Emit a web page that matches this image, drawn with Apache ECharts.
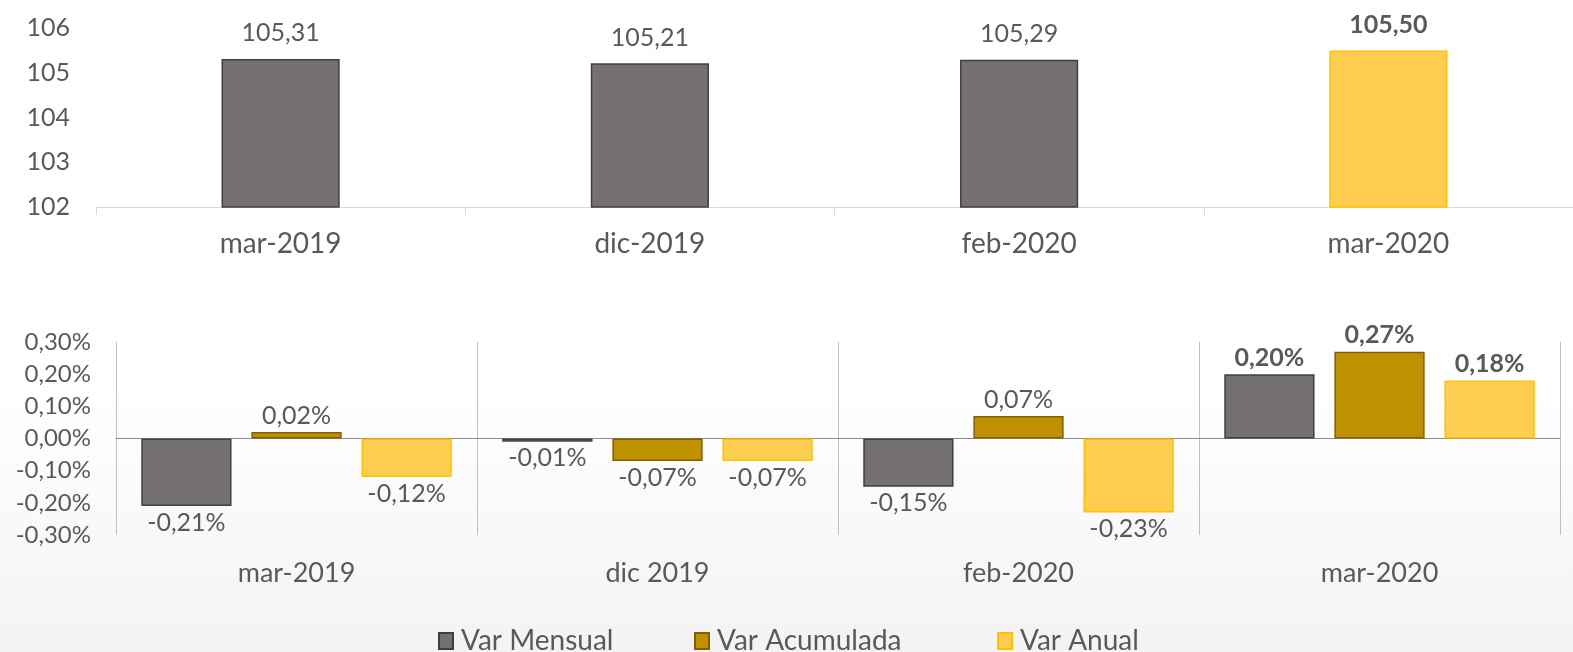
<!DOCTYPE html>
<html><head><meta charset="utf-8">
<script src="https://cdn.jsdelivr.net/npm/echarts@6/dist/echarts.min.js"></script>
<style>html,body{margin:0;padding:0;background:#fff}#c{width:1573px;height:652px}</style>
</head><body><div id="c"></div>
<script>
const topCategories = ['mar-2019', 'dic-2019', 'feb-2020', 'mar-2020'];
const topValues = [105.31, 105.21, 105.29, 105.50];
const topTicks = [102, 103, 104, 105, 106];

const bottomCategories = ['mar-2019', 'dic 2019', 'feb-2020', 'mar-2020'];
const seriesNames = ['Var Mensual', 'Var Acumulada', 'Var Anual'];
const varMensual = [-0.21, -0.01, -0.15, 0.20];
const varAcumulada = [0.02, -0.07, 0.07, 0.27];
const varAnual = [-0.12, -0.07, -0.23, 0.18];
const bottomTicks = [-0.30, -0.20, -0.10, 0.00, 0.10, 0.20, 0.30];

const FONT = 'Lato';
const TXT = '#595959';
const fmtPct = v => v.toFixed(2).replace('.', ',') + '%';
const highlightIndex = 3;

function pctData(arr) {
  return arr.map((v, i) => ({
    value: v,
    label: {
      position: v < 0 ? 'bottom' : 'top',
      fontWeight: i === highlightIndex ? 'bold' : 'normal'
    }
  }));
}

const colors = {
  mensual: { fill: '#757170', border: '#404040' },
  acum: { fill: '#BF9000', border: '#7F6000' },
  anual: { fill: '#FFCD4F', border: '#FFC000' }
};

function pctSeries(name, arr, c) {
  return {
    name: name, type: 'bar', xAxisIndex: 1, yAxisIndex: 1,
    data: pctData(arr),
    barWidth: '25%', barGap: '22%',
    itemStyle: { color: c.fill, borderColor: c.border, borderWidth: 1.5 },
    label: { show: true, formatter: p => fmtPct(p.value), color: TXT, fontFamily: FONT, fontSize: 25, distance: 4 }
  };
}

function legendItem(name, left) {
  return {
    data: [name], left: left, top: 622, itemWidth: 14, itemHeight: 16, icon: 'rect',
    textStyle: { color: TXT, fontFamily: FONT, fontSize: 28, padding: [0, 0, 0, 3] }
  };
}

const chart = echarts.init(document.getElementById('c'));
chart.setOption({
  backgroundColor: {
    type: 'linear', x: 0, y: 0, x2: 0, y2: 1,
    colorStops: [
      { offset: 0, color: '#ffffff' },
      { offset: 0.6, color: '#ffffff' },
      { offset: 1, color: '#f3f3f3' }
    ]
  },
  animation: false,
  textStyle: { fontFamily: FONT },
  grid: [
    { left: 96, right: 0, top: 28, bottom: 445 },
    { left: 116, right: 13, top: 342, bottom: 117 }
  ],
  legend: [
    legendItem(seriesNames[0], 433),
    legendItem(seriesNames[1], 689),
    legendItem(seriesNames[2], 992)
  ],
  xAxis: [
    { type: 'category', gridIndex: 0, data: topCategories,
      axisLine: { lineStyle: { color: '#d9d9d9', width: 1 } },
      axisTick: { show: true, length: 8, lineStyle: { color: '#d9d9d9' } },
      axisLabel: { color: TXT, fontFamily: FONT, fontSize: 28, margin: 23 } },
    { type: 'category', gridIndex: 1, data: bottomCategories,
      axisLine: { show: false, onZero: false },
      axisTick: { show: false },
      splitLine: { show: true, lineStyle: { color: '#bfbfbf', width: 1 } },
      axisLabel: { color: TXT, fontFamily: FONT, fontSize: 27, margin: 25 } },
    { type: 'category', gridIndex: 1, data: bottomCategories,
      axisLine: { show: true, onZero: true, onZeroAxisIndex: 1, lineStyle: { color: '#8c8c8c', width: 1.2 } },
      axisTick: { show: false }, axisLabel: { show: false }, splitLine: { show: false } }
  ],
  yAxis: [
    { type: 'value', gridIndex: 0, min: topTicks[0], max: topTicks[topTicks.length - 1], interval: 1,
      axisLine: { show: false }, axisTick: { show: false }, splitLine: { show: false },
      axisLabel: { color: TXT, fontFamily: FONT, fontSize: 25, margin: 26 } },
    { type: 'value', gridIndex: 1, min: bottomTicks[0], max: bottomTicks[bottomTicks.length - 1], interval: 0.1,
      axisLine: { show: false }, axisTick: { show: false }, splitLine: { show: false },
      axisLabel: { color: TXT, fontFamily: FONT, fontSize: 24, margin: 25, formatter: v => fmtPct(v) } }
  ],
  series: [
    { name: 'Índice', type: 'bar', xAxisIndex: 0, yAxisIndex: 0,
      data: topValues.map((v, i) => i === highlightIndex
        ? { value: v, itemStyle: { color: colors.anual.fill, borderColor: colors.anual.border }, label: { fontWeight: 'bold' } }
        : v),
      barWidth: '32%',
      itemStyle: { color: colors.mensual.fill, borderColor: colors.mensual.border, borderWidth: 1.5 },
      label: { show: true, position: 'top', distance: 13, color: TXT, fontFamily: FONT, fontSize: 25,
        formatter: p => p.value.toFixed(2).replace('.', ',') } },
    pctSeries(seriesNames[0], varMensual, colors.mensual),
    pctSeries(seriesNames[1], varAcumulada, colors.acum),
    pctSeries(seriesNames[2], varAnual, colors.anual)
  ]
});
</script></body></html>
